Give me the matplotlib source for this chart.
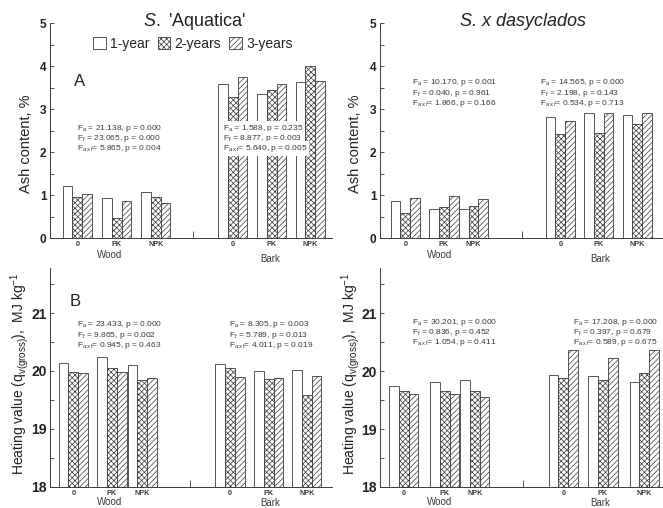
import matplotlib
matplotlib.use("Agg")
import matplotlib.pyplot as plt
from matplotlib.patches import Patch

plt.rcParams['font.family'] = ['Liberation Sans', 'DejaVu Sans']
plt.rcParams['hatch.linewidth'] = 0.5
plt.rcParams['mathtext.fontset'] = 'custom'
plt.rcParams['mathtext.rm'] = 'Liberation Sans'
plt.rcParams['mathtext.it'] = 'Liberation Sans:italic'

# data
groups = ['0', 'PK', 'NPK']
series = ['1-year', '2-years', '3-years']

# ash content, % (rows = 0, PK, NPK; cols = 1-, 2-, 3-years)
ash_aq_wood = [[1.22, 0.95, 1.02], [0.93, 0.46, 0.86], [1.08, 0.95, 0.81]]
ash_aq_bark = [[3.59, 3.28, 3.75], [3.35, 3.44, 3.58], [3.63, 4.00, 3.66]]
ash_da_wood = [[0.86, 0.58, 0.93], [0.69, 0.72, 0.98], [0.67, 0.75, 0.91]]
ash_da_bark = [[2.81, 2.43, 2.72], [2.90, 2.45, 2.92], [2.87, 2.65, 2.92]]

# heating value, MJ/kg
hv_aq_wood = [[20.13, 19.99, 19.97], [20.25, 20.06, 19.99], [20.10, 19.84, 19.88]]
hv_aq_bark = [[20.12, 20.06, 19.90], [20.00, 19.86, 19.88], [20.02, 19.59, 19.91]]
hv_da_wood = [[19.74, 19.65, 19.60], [19.82, 19.66, 19.61], [19.85, 19.65, 19.56]]
hv_da_bark = [[19.94, 19.89, 20.37], [19.92, 19.85, 20.22], [19.81, 19.96, 20.36]]

stats_aq_ash = [['21.138', '0.000', '23.065', '0.000', '5.865', '0.004'],
                ['1.588', '0.235', '8.877', '0.003', '5.640', '0.005']]
stats_da_ash = [['10.170', '0.001', '0.040', '0.961', '1.866', '0.166'],
                ['14.565', '0.000', '2.198', '0.143', '0.534', '0.713']]
stats_aq_hv = [['23.433', '0.000', '9.865', '0.002', '0.945', '0.463'],
               ['8.305', '0.003', '5.789', '0.013', '4.011', '0.019']]
stats_da_hv = [['30.201', '0.000', '0.836', '0.452', '1.054', '0.411'],
               ['17.208', '0.000', '0.397', '0.679', '0.589', '0.675']]

W, H = 663, 508
fig = plt.figure(figsize=(W / 100, H / 100), dpi=100)

GREY = '#3a3a3a'
hatches = ['', 'xxxxxx', '//////']
BW = 9.8


def ax_px(l, t, r, b):
    return fig.add_axes([l / W, 1 - b / H, (r - l) / W, (b - t) / H])


def ftext(x, y, s, **kw):
    kw.setdefault('color', GREY)
    return fig.text(x / W, 1 - y / H, s, **kw)


def panel(box, wood, bark, pos_w, pos_b, sep, ylim, yticks, yminor, tsize):
    ax = ax_px(*box)
    for vals, pos in ((wood, pos_w), (bark, pos_b)):
        for g in range(3):
            for s in range(3):
                ax.bar(pos[g] + (s - 1) * BW, vals[g][s] - ylim[0], BW,
                       bottom=ylim[0], color='white', edgecolor=GREY,
                       linewidth=0.6, hatch=hatches[s], zorder=2)
    ax.set_xlim(0, box[2] - box[0])
    ax.set_ylim(*ylim)
    ax.set_yticks(yticks)
    ax.set_yticks(yminor, minor=True)
    ax.tick_params(axis='y', which='both', direction='in', length=3,
                   width=0.6, color=GREY, labelsize=tsize, labelcolor='#222',
                   pad=2.5)
    for lab in ax.get_yticklabels():
        lab.set_fontweight('bold')
    ax.set_xticks(list(pos_w) + list(pos_b))
    ax.set_xticklabels(groups * 2, fontsize=5.2, fontweight='bold', color=GREY)
    ax.tick_params(axis='x', which='major', length=0, pad=2.2)
    ax.set_xticks([sep], minor=True)
    ax.tick_params(axis='x', which='minor', direction='in', length=5,
                   width=0.6, color=GREY)
    for sp in ('top', 'right'):
        ax.spines[sp].set_visible(False)
    for sp in ('left', 'bottom'):
        ax.spines[sp].set_color(GREY)
        ax.spines[sp].set_linewidth(0.7)
    return ax


def stats(x, y, v, box=False):
    lines = [r'F$_\mathrm{a}$ = %s, p = %s' % (v[0], v[1]),
             r'F$_\mathrm{f}$ = %s, p = %s' % (v[2], v[3]),
             r'F$_\mathrm{a\,x\,f}$= %s, p = %s' % (v[4], v[5])]
    for i, ln in enumerate(lines):
        kw = {}
        if box:
            kw['bbox'] = dict(facecolor='white', edgecolor='none', pad=1.2)
        ftext(x, y + i * 10.3, ln, fontsize=6.0, va='center', ha='left',
              zorder=5, **kw)


# top-left: S. 'Aquatica' ash
panel((50, 23, 332, 238.3), ash_aq_wood, ash_aq_bark,
      [27.3, 66.7, 105.7], [182.7, 221.7, 260.3], 143.3,
      (0, 5), [0, 1, 2, 3, 4, 5], [0.5, 1.5, 2.5, 3.5, 4.5], 8.5)
# top-right: S. x dasyclados ash
panel((380, 23, 663, 238.3), ash_da_wood, ash_da_bark,
      [25.3, 63.8, 93.5], [180.3, 218.7, 257.3], 141.7,
      (0, 5), [0, 1, 2, 3, 4, 5], [0.5, 1.5, 2.5, 3.5, 4.5], 8.5)
# bottom-left: heating value
panel((50, 268, 332, 486.7), hv_aq_wood, hv_aq_bark,
      [23.3, 62, 92.2], [180, 218.7, 256.7], 140,
      (18, 21.78), [18, 19, 20, 21], [18.5, 19.5, 20.5, 21.5], 10)
# bottom-right
panel((380, 268, 663, 487), hv_da_wood, hv_da_bark,
      [23.7, 64.7, 94.7], [183.3, 222.8, 264.2], 143.3,
      (18, 21.78), [18, 19, 20, 21], [18.5, 19.5, 20.5, 21.5], 10)

# titles
ftext(194, 21, r"$\mathit{S.}$ 'Aquatica'", fontsize=13, ha='center',
      va='center', color='#222')
ftext(523, 21, 'S. x dasyclados', fontsize=13, style='italic',
      ha='center', va='center', color='#222')

# legend
handles = [Patch(facecolor='white', edgecolor=GREY, linewidth=0.6,
                 hatch=h, label=s) for h, s in zip(hatches, series)]
fig.legend(handles=handles, loc='center', ncol=3, frameon=False,
           bbox_to_anchor=(193 / W, 1 - 44 / H), fontsize=10,
           handlelength=0.9, handleheight=0.9, handletextpad=0.3,
           columnspacing=0.6, labelcolor='#222')

# panel letters
ftext(80, 82, 'A', fontsize=12, ha='center', va='center', color='#222')
ftext(75, 302, 'B', fontsize=12, ha='center', va='center', color='#222')

# axis titles
for x in (26, 355):
    ftext(x, 144, 'Ash content, %', rotation=90, fontsize=10.5,
          ha='center', va='center', color='#222')
for x in (20, 351):
    ftext(x, 374, r'Heating value (q$_\mathrm{v(gross)}$),  MJ kg$^\mathrm{-1}$',
          rotation=90, fontsize=10, ha='center', va='center', color='#222')

# Wood / Bark labels
for x0 in (0, 330):
    ftext(x0 + 110, 255, 'Wood', fontsize=7, ha='center', va='center')
    ftext(x0 + 270, 259, 'Bark', fontsize=7, ha='center', va='center')
    ftext(x0 + 110, 502, 'Wood', fontsize=7, ha='center', va='center')
    ftext(x0 + 270, 503.5, 'Bark', fontsize=7, ha='center', va='center')

# statistics
stats(77, 128, stats_aq_ash[0])
stats(223, 128, stats_aq_ash[1], box=True)
stats(412, 83, stats_da_ash[0])
stats(540, 83, stats_da_ash[1])
stats(77, 325, stats_aq_hv[0])
stats(229, 325, stats_aq_hv[1])
stats(412, 322, stats_da_hv[0])
stats(573, 322, stats_da_hv[1])

fig.savefig('out.png', dpi=100)
